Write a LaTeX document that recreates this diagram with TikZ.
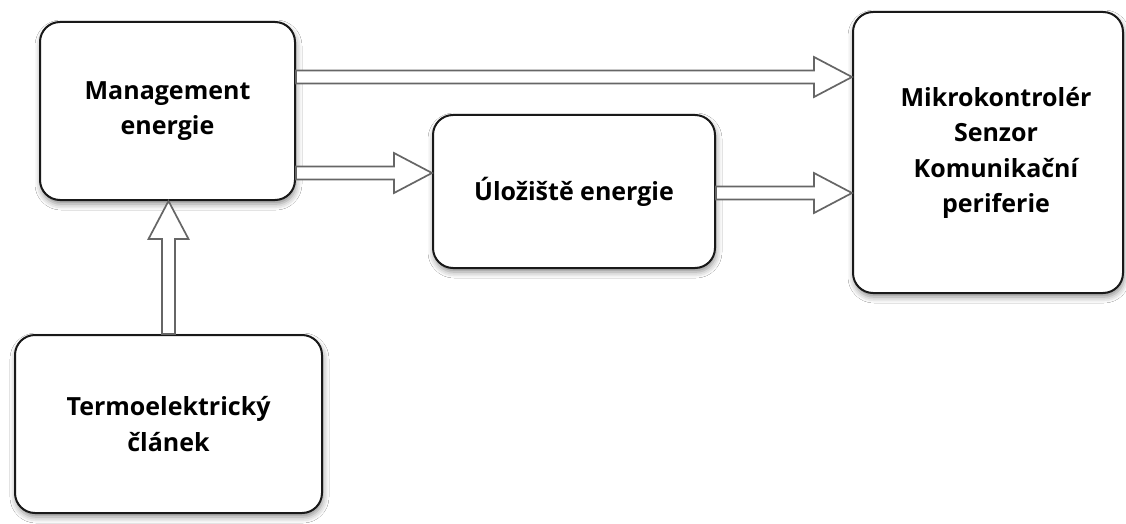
\documentclass[tikz,border=0pt]{standalone}
\usepackage{fontspec}
\setmainfont{Open Sans}
\usetikzlibrary{calc,shadows.blur}
\tikzset{
  box/.style={draw=black!90, line width=2pt, rounded corners=20pt, fill=white,
    align=center, inner sep=0pt,
    font=\bfseries\fontsize{25}{35.5}\selectfont,
    blur shadow={shadow xshift=1pt, shadow yshift=-4pt, shadow blur radius=6pt, shadow opacity=45}},
  barrow/.style={draw=black!60, line width=1.7pt, fill=white, line join=miter,
    to path={
      ($(\tikztostart)!6.5pt!90:(\tikztotarget)$) --
      ($(\tikztotarget)!38pt!(\tikztostart)!6.5pt!90:(\tikztotarget)$) --
      ($(\tikztotarget)!38pt!(\tikztostart)!20pt!90:(\tikztotarget)$) --
      (\tikztotarget) --
      ($(\tikztotarget)!38pt!(\tikztostart)!20pt!-90:(\tikztotarget)$) --
      ($(\tikztotarget)!38pt!(\tikztostart)!6.5pt!-90:(\tikztotarget)$) --
      ($(\tikztostart)!6.5pt!-90:(\tikztotarget)$) -- cycle}}
}
\begin{document}
\begin{tikzpicture}[x=1pt,y=-1pt]
\fill[white] (0,0) rectangle (1126,524);
\useasboundingbox (0,0) rectangle (1126,524);
\node[box, minimum width=255pt, minimum height=178pt] (mgmt) at (167.5,111) {Management\\energie};
\node[box, minimum width=307pt, minimum height=178pt] (termo) at (168.5,424) {Termoelektrický\\článek};
\node[box, minimum width=282pt, minimum height=153pt] (ulo) at (574,191.5) {Úložiště energie};
\node[box, minimum width=270pt, minimum height=281pt] (mikro) at (988,152.5) {\raisebox{-6pt}{\begin{tabular}{@{}c@{}}\hspace*{16pt}Mikrokontrolér\\\hspace*{16pt}Senzor\\\hspace*{16pt}Komunikační\\\hspace*{16pt}periferie\end{tabular}}};
\coordinate (a1) at (mgmt.east |- 0,77);
\coordinate (a2) at (mgmt.east |- 0,173);
\coordinate (a3) at (ulo.east |- 0,193);
\draw[barrow] (a1) to (a1 -| mikro.west);
\draw[barrow] (a2) to (a2 -| ulo.west);
\draw[barrow] (a3) to (a3 -| mikro.west);
\draw[barrow] (termo.north) to (termo.north |- mgmt.south);
\end{tikzpicture}
\end{document}
